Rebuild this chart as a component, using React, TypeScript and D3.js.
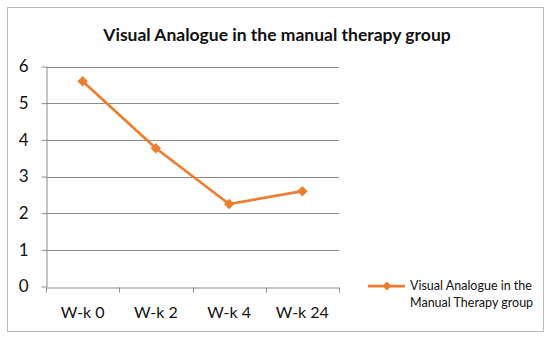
import React, { useEffect, useRef } from 'react';
import * as d3 from 'd3';

const categories = ['W-k 0', 'W-k 2', 'W-k 4', 'W-k 24'];
const values = [5.6, 3.77, 2.25, 2.6];
const yTicks = [0, 1, 2, 3, 4, 5, 6];
const title = 'Visual Analogue in the manual therapy group';
const legendLines = ['Visual Analogue in the', 'Manual Therapy group'];

const App = () => {
  const ref = useRef<SVGSVGElement | null>(null);

  useEffect(() => {
    const orange = '#ED7D31';
    const font = 'Lato, "Open Sans", sans-serif';

    const svg = d3.select(ref.current);
    svg.selectAll('*').remove();

    // рамка вокруг графика
    svg.append('rect')
      .attr('x', 7.5).attr('y', 7.5)
      .attr('width', 536).attr('height', 324)
      .attr('fill', '#fff')
      .attr('stroke', '#b8b8b8')
      .attr('stroke-width', 1);

    svg.append('text')
      .attr('x', 277)
      .attr('y', 41)
      .attr('text-anchor', 'middle')
      .attr('font-family', font)
      .attr('font-weight', 'bold')
      .attr('font-size', 17.5)
      .attr('fill', '#111')
      .text(title);

    const x = d3.scaleBand().domain(categories).range([46, 339]);
    const y = d3.scaleLinear().domain([0, 6]).range([286.5, 66.5]);

    // сетка
    svg.append('g')
      .selectAll('line')
      .data(yTicks.filter(t => t > 0))
      .enter()
      .append('line')
      .attr('x1', 46).attr('x2', 339)
      .attr('y1', d => Math.round(y(d)) + 0.5)
      .attr('y2', d => Math.round(y(d)) + 0.5)
      .attr('stroke', '#8c8c8c')
      .attr('stroke-width', 1);

    const yAxis = svg.append('g')
      .attr('transform', 'translate(46.5,0)')
      .call(d3.axisLeft(y).tickValues(yTicks).tickFormat(d3.format('d')).tickSize(5).tickSizeOuter(0).tickPadding(13));
    yAxis.select('.domain').attr('stroke', '#8c8c8c');
    yAxis.selectAll('line').attr('stroke', '#8c8c8c');
    yAxis.selectAll('text')
      .attr('font-family', font)
      .attr('font-size', 17)
      .attr('fill', '#111');

    const xAxis = svg.append('g')
      .attr('transform', `translate(0,${Math.round(y(0)) + 0.5})`)
      .call(d3.axisBottom(x).tickSize(0).tickPadding(19));
    xAxis.select('.domain').attr('stroke', '#8c8c8c');
    xAxis.selectAll('text')
      .attr('font-family', font)
      .attr('font-size', 16)
      .attr('fill', '#111');

    // засечки между категориями
    const bounds = categories.map(c => x(c) as number).concat([x.range()[1]]);
    xAxis.selectAll('.sep')
      .data(bounds)
      .enter()
      .append('line')
      .attr('class', 'sep')
      .attr('x1', d => Math.round(d) + 0.5)
      .attr('x2', d => Math.round(d) + 0.5)
      .attr('y1', 0).attr('y2', 5)
      .attr('stroke', '#8c8c8c');

    const cx = (c: string) => (x(c) as number) + x.bandwidth() / 2;

    const line = d3.line<number>()
      .x((d, i) => cx(categories[i]))
      .y(d => y(d));

    svg.append('path')
      .datum(values)
      .attr('d', line)
      .attr('fill', 'none')
      .attr('stroke', orange)
      .attr('stroke-width', 2.75)
      .attr('stroke-linejoin', 'round');

    const diamond = d3.symbol().type(d3.symbolDiamond2).size(70);
    svg.append('g')
      .selectAll('path')
      .data(values)
      .enter()
      .append('path')
      .attr('d', diamond)
      .attr('transform', (d, i) => `translate(${cx(categories[i])},${y(d)})`)
      .attr('fill', orange);

    // легенда
    const legend = svg.append('g');
    legend.append('line')
      .attr('x1', 368).attr('x2', 405)
      .attr('y1', 286).attr('y2', 286)
      .attr('stroke', orange)
      .attr('stroke-width', 2.75);
    legend.append('path')
      .attr('d', d3.symbol().type(d3.symbolDiamond2).size(50))
      .attr('transform', 'translate(387,286)')
      .attr('fill', orange);
    legend.selectAll('text')
      .data(legendLines)
      .enter()
      .append('text')
      .attr('x', 410)
      .attr('y', (d, i) => 290 + i * 17)
      .attr('font-family', font)
      .attr('font-size', 12.5)
      .attr('fill', '#111')
      .text(d => d);
  }, []);

  return (
    <svg
      ref={ref}
      width={550}
      height={340}
      style={{ position: 'absolute', left: 0, top: 0, background: '#fff' }}
    />
  );
};

export default App;
